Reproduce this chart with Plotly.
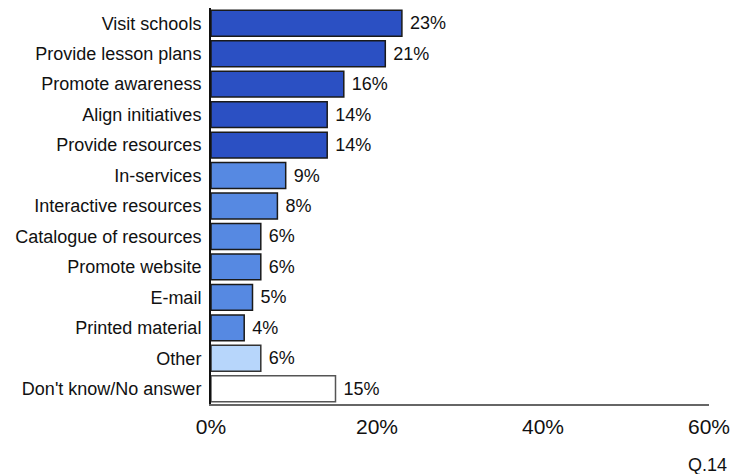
import plotly.graph_objects as go

# Survey responses (share of respondents, %)
categories = [
    "Visit schools", "Provide lesson plans", "Promote awareness",
    "Align initiatives", "Provide resources", "In-services",
    "Interactive resources", "Catalogue of resources", "Promote website",
    "E-mail", "Printed material", "Other", "Don't know/No answer",
]
values = [23, 21, 16, 14, 14, 9, 8, 6, 6, 5, 4, 6, 15]
groups = ["top"] * 5 + ["other"] * 6 + ["misc", "none"]

group_colors = {"top": "#2B50C3", "other": "#5689E2", "misc": "#B7D6FB", "none": "#FFFFFF"}
group_lines = {"top": "#1A1A1A", "other": "#1A1A1A", "misc": "#333333", "none": "#555555"}

x_ticks = [0, 20, 40, 60]
x_tick_labels = ["0%", "20%", "40%", "60%"]

FONT = "Liberation Sans, Arial, Helvetica, sans-serif"

fig = go.Figure(
    go.Bar(
        y=categories,
        x=values,
        orientation="h",
        marker=dict(
            color=[group_colors[g] for g in groups],
            line=dict(color=[group_lines[g] for g in groups], width=1.5),
        ),
        text=[f"\u00a0{v}%" for v in values],
        textposition="outside",
        textfont=dict(family=FONT, size=18, color="#111111"),
        cliponaxis=False,
        width=0.85,
    )
)

fig.update_layout(
    width=731,
    height=474,
    margin=dict(l=211, r=22, t=8, b=70, autoexpand=False),
    paper_bgcolor="white",
    plot_bgcolor="white",
    showlegend=False,
    font=dict(family=FONT, size=18, color="#111111"),
    xaxis=dict(
        range=[0, 60],
        tickvals=x_ticks,
        ticktext=x_tick_labels,
        showgrid=False,
        zeroline=False,
        showline=True,
        linecolor="#666666",
        linewidth=2,
        ticks="",
        ticklabelstandoff=3,
        tickfont=dict(size=21),
        automargin=False,
        fixedrange=True,
    ),
    yaxis=dict(
        autorange="reversed",
        showgrid=False,
        zeroline=False,
        showline=True,
        linecolor="#111111",
        linewidth=2,
        ticks="",
        ticklabelstandoff=4,
        tickfont=dict(size=18),
        automargin=False,
        fixedrange=True,
    ),
    annotations=[
        dict(
            text="Q.14",
            xref="paper", yref="paper",
            x=1.04, y=-0.155,
            xanchor="right", yanchor="middle",
            showarrow=False,
            font=dict(size=18, color="#111111"),
        )
    ],
)

fig.write_html("out.html")
